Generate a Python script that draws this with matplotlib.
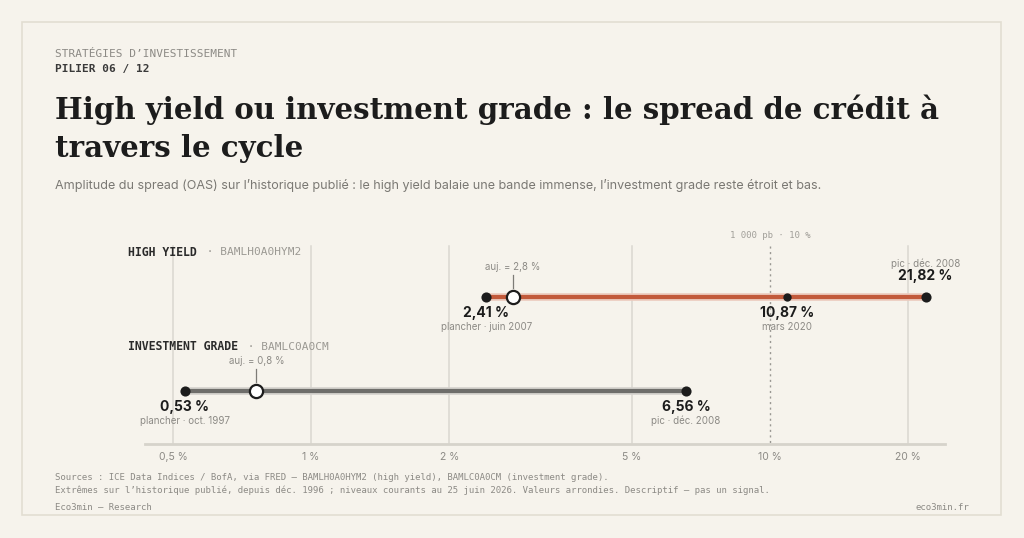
import matplotlib
matplotlib.use("Agg")
import matplotlib.pyplot as plt
from matplotlib.patches import Rectangle

# ---------------------------------------------------------------------------
# Data
# ---------------------------------------------------------------------------
series_names = ["HIGH YIELD", "INVESTMENT GRADE"]
series_codes = ["BAMLH0A0HYM2", "BAMLC0A0CM"]
floor_vals = [2.41, 0.53]
floor_dates = ["juin 2007", "oct. 1997"]
peak_vals = [21.82, 6.56]
peak_dates = ["déc. 2008", "déc. 2008"]
current_vals = [2.75, 0.76]
current_labels = ["2,8 %", "0,8 %"]
covid_val = 10.87
covid_date = "mars 2020"
threshold_val = 10.0
threshold_label = "1 000 pb · 10 %"
tick_vals = [0.5, 1, 2, 5, 10, 20]
tick_labels = ["0,5 %", "1 %", "2 %", "5 %", "10 %", "20 %"]

W, H = 1024, 538
BG = "#f6f3ec"
DARK = "#1c1c1c"
GREY = "#8c8a85"
GRID = "#dad7d0"
HY_COL = "#c25a3b"
IG_COL = "#6e6d6a"
MONO = "DejaVu Sans Mono"
SANS = ["Inter", "DejaVu Sans"]
SERIF = "DejaVu Serif"

plt.rcParams["font.family"] = SANS

fig = plt.figure(figsize=(W / 100, H / 100), dpi=100)
fig.patch.set_facecolor(BG)


def fx(x):
    return x / W


def fy(y):
    return 1 - y / H


# card border
fig.patches.append(Rectangle((fx(22), fy(515)), fx(979), (515 - 22) / H,
                             transform=fig.transFigure, fill=False,
                             edgecolor="#e2ded2", lw=1.2))

renderer = fig.canvas.get_renderer()


def fit(t, width_px):
    """shrink/grow a text so it spans width_px"""
    w = t.get_window_extent(renderer).width
    t.set_fontsize(t.get_fontsize() * width_px / w)


# header
fig.text(fx(55), fy(54), "STRATÉGIES D’INVESTISSEMENT", family=MONO, fontsize=8,
         color=GREY, va="center")
fig.text(fx(55), fy(69), "PILIER 06 / 12", family=MONO, fontsize=8,
         color="#3a3a3a", weight="bold", va="center")

t1 = fig.text(fx(55), fy(119), "High yield ou investment grade : le spread de crédit à",
              family=SERIF, weight="bold", fontsize=24, color=DARK, va="baseline")
fit(t1, 885)
fig.text(fx(55), fy(157), "travers le cycle", family=SERIF, weight="bold",
         fontsize=t1.get_fontsize(), color=DARK, va="baseline")

sub = fig.text(fx(55), fy(186),
               "Amplitude du spread (OAS) sur l’historique publié : le high yield balaie "
               "une bande immense, l’investment grade reste étroit et bas.",
               fontsize=9.5, color="#7a7873", va="center")
fit(sub, 762)

# ---------------------------------------------------------------------------
# Main axis: log x, y in pixel rows
# ---------------------------------------------------------------------------
ax = fig.add_axes([fx(145), fy(444), fx(800), (444 - 230) / H])
ax.set_facecolor("none")
ax.set_xscale("log")
ax.set_xlim(0.4346, 24.06)
ax.set_ylim(444, 230)
for s in ["top", "left", "right"]:
    ax.spines[s].set_visible(False)
ax.spines["bottom"].set_color("#d6d3cb")
ax.spines["bottom"].set_linewidth(2)
ax.set_yticks([])
ax.set_xticks(tick_vals)
ax.set_xticklabels(tick_labels, fontsize=7.5, color=GREY)
ax.minorticks_off()
ax.tick_params(axis="x", length=0, pad=6)

for v in tick_vals:
    if v == threshold_val:
        continue
    ax.plot([v, v], [246, 444], color=GRID, lw=1.1, zorder=0)
ax.plot([threshold_val, threshold_val], [246, 444], color="#9a9893", lw=1,
        ls=(0, (1.5, 2.5)), zorder=0)
ax.text(threshold_val, 236, threshold_label, family=MONO, fontsize=6.5,
        color="#a19f99", ha="center", va="center")

rows = [297, 391]
colors = [HY_COL, IG_COL]
halos = ["#eccabd", "#d4d2cd"]
label_rows = [252, 347]


def fmt(v):
    return f"{v:.2f}".replace(".", ",") + " %"


for i in range(2):
    y = rows[i]
    ax.plot([floor_vals[i], peak_vals[i]], [y, y], color=halos[i], lw=5.5,
            solid_capstyle="butt", zorder=2)
    ax.plot([floor_vals[i], peak_vals[i]], [y, y], color=colors[i], lw=3,
            solid_capstyle="butt", zorder=3)
    ax.plot([floor_vals[i], peak_vals[i]], [y, y], "o", color=DARK, ms=7.3,
            mec="none", zorder=4)
    ax.plot(current_vals[i], y, "o", color="white", mec=DARK, mew=1.6, ms=9.5,
            zorder=5)
    # today callout
    ax.plot([current_vals[i]] * 2, [y - 22, y - 9], color="#7d7b76", lw=0.9, zorder=4)
    ax.text(current_vals[i], y - 30, f"auj. = {current_labels[i]}", fontsize=7,
            color=GREY, ha="center", va="center")
    # floor
    ax.text(floor_vals[i], y + 16, fmt(floor_vals[i]), fontsize=10, weight="bold",
            color=DARK, ha="center", va="center")
    ax.text(floor_vals[i], y + 30, f"plancher · {floor_dates[i]}", fontsize=7,
            color=GREY, ha="center", va="center")
    # row labels
    lab = fig.text(fx(128), fy(label_rows[i]), series_names[i], family=MONO,
                   fontsize=8.3, weight="bold", color="#2a2a2a", va="center")
    bb = lab.get_window_extent(renderer)
    fig.text(fx(bb.x1 + 3), fy(label_rows[i]), f" · {series_codes[i]}", family=MONO,
             fontsize=8, color="#9b9993", va="center")

# peaks: HY label above, IG label below
ax.text(peak_vals[0], 264, f"pic · {peak_dates[0]}", fontsize=7, color=GREY,
        ha="center", va="center")
ax.text(peak_vals[0], 276, fmt(peak_vals[0]), fontsize=10, weight="bold",
        color=DARK, ha="center", va="center")
ax.text(peak_vals[1], rows[1] + 16, fmt(peak_vals[1]), fontsize=10, weight="bold",
        color=DARK, ha="center", va="center")
ax.text(peak_vals[1], rows[1] + 30, f"pic · {peak_dates[1]}", fontsize=7,
        color=GREY, ha="center", va="center")

# march 2020 point on the HY band
ax.plot(covid_val, rows[0], "o", color=DARK, ms=6, mec="none", zorder=4)
ax.text(covid_val, rows[0] + 16, fmt(covid_val), fontsize=10, weight="bold",
        color=DARK, ha="center", va="center")
ax.text(covid_val, rows[0] + 30, covid_date, fontsize=7, color=GREY,
        ha="center", va="center")

# footer
fig.text(fx(55), fy(477),
         "Sources : ICE Data Indices / BofA, via FRED — BAMLH0A0HYM2 (high yield), "
         "BAMLC0A0CM (investment grade).", family=MONO, fontsize=6.5, color=GREY,
         va="center")
fig.text(fx(55), fy(490),
         "Extrêmes sur l’historique publié, depuis déc. 1996 ; niveaux courants au "
         "25 juin 2026. Valeurs arrondies. Descriptif — pas un signal.",
         family=MONO, fontsize=6.5, color=GREY, va="center")
fig.text(fx(55), fy(507), "Eco3min — Research", family=MONO, fontsize=6.5,
         color=GREY, va="center")
fig.text(fx(969), fy(507), "eco3min.fr", family=MONO, fontsize=6.5, color=GREY,
         va="center", ha="right")

fig.savefig("out.png", dpi=100, facecolor=BG)
